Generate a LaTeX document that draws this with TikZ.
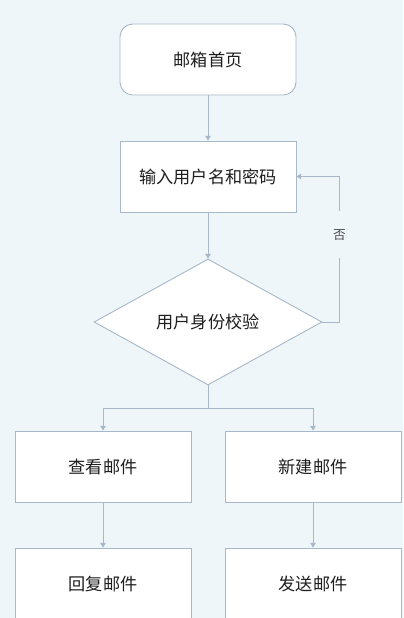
\documentclass[tikz,border=0pt]{standalone}
\usepackage{fontspec}
\setmainfont{Noto Sans CJK SC}
\usetikzlibrary{arrows.meta,shapes.geometric,positioning}
\definecolor{bgblue}{HTML}{EEF6FA}
\definecolor{edgegray}{HTML}{A8B8C8}
\definecolor{txtgray}{HTML}{1E1E1E}

\begin{document}
\begin{tikzpicture}[
  >={Triangle[width=4pt,length=3.4pt]},
  line width=0.65pt,
  box/.style={draw=edgegray,fill=white,minimum width=4.4cm,minimum height=1.775cm,
              inner sep=0pt,font=\fontsize{12.2}{14}\selectfont,text=txtgray},
  startbox/.style={box,rounded corners=0.32cm},
  check/.style={diamond,draw=edgegray,fill=white,minimum width=5.7cm,minimum height=3.15cm,
              inner sep=0pt,aspect=1.8,font=\fontsize{12.2}{14}\selectfont,text=txtgray},
  flow/.style={draw=edgegray,->},
  lab/.style={font=\fontsize{9}{10}\selectfont,text=txtgray!80,fill=bgblue,inner xsep=2pt,inner ysep=0.45cm}
]

% --- canvas
\useasboundingbox (0,0) rectangle (10.075,-15.45);
\clip (0,0) rectangle (10.075,-15.45);
\fill[bgblue] (0,0) rectangle (10.075,-15.45);

% --- x locations
\def\xMid{5.2}
\def\xL{2.575}
\def\xR{7.825}

% --- y locations
\def\yHome{-1.4875}
\def\yLogin{-4.4125}
\def\yCheck{-8.05}
\def\ySplit{-10.2}
\def\yRow{-11.6625}
\def\yLast{-14.5875}

% --- nodes
\node[startbox] (home)  at (\xMid,\yHome)  {邮箱首页};
\node[box]      (login) at (\xMid,\yLogin) {输入用户名和密码};
\node[check]    (auth)  at (\xMid,\yCheck) {用户身份校验};
\coordinate     (split) at (\xMid,\ySplit);
\node[box]      (view)  at (\xL,\yRow)     {查看邮件};
\node[box]      (new)   at (\xR,\yRow)     {新建邮件};
\node[box]      (reply) at (\xL,\yLast)    {回复邮件};
\node[box]      (send)  at (\xR,\yLast)    {发送邮件};

% --- connectors
\draw[flow] (home) -- (login);
\draw[flow] (login) -- (auth);
\draw[flow] (auth.east) -- ++(0.425,0) |- node[lab,pos=0.3]{否} (login.east);
\draw[flow] (auth.south) -- (split) -| (view.north);
\draw[flow] (split) -| (new.north);
\draw[flow] (view) -- (reply);
\draw[flow] (new) -- (send);

\end{tikzpicture}
\end{document}
